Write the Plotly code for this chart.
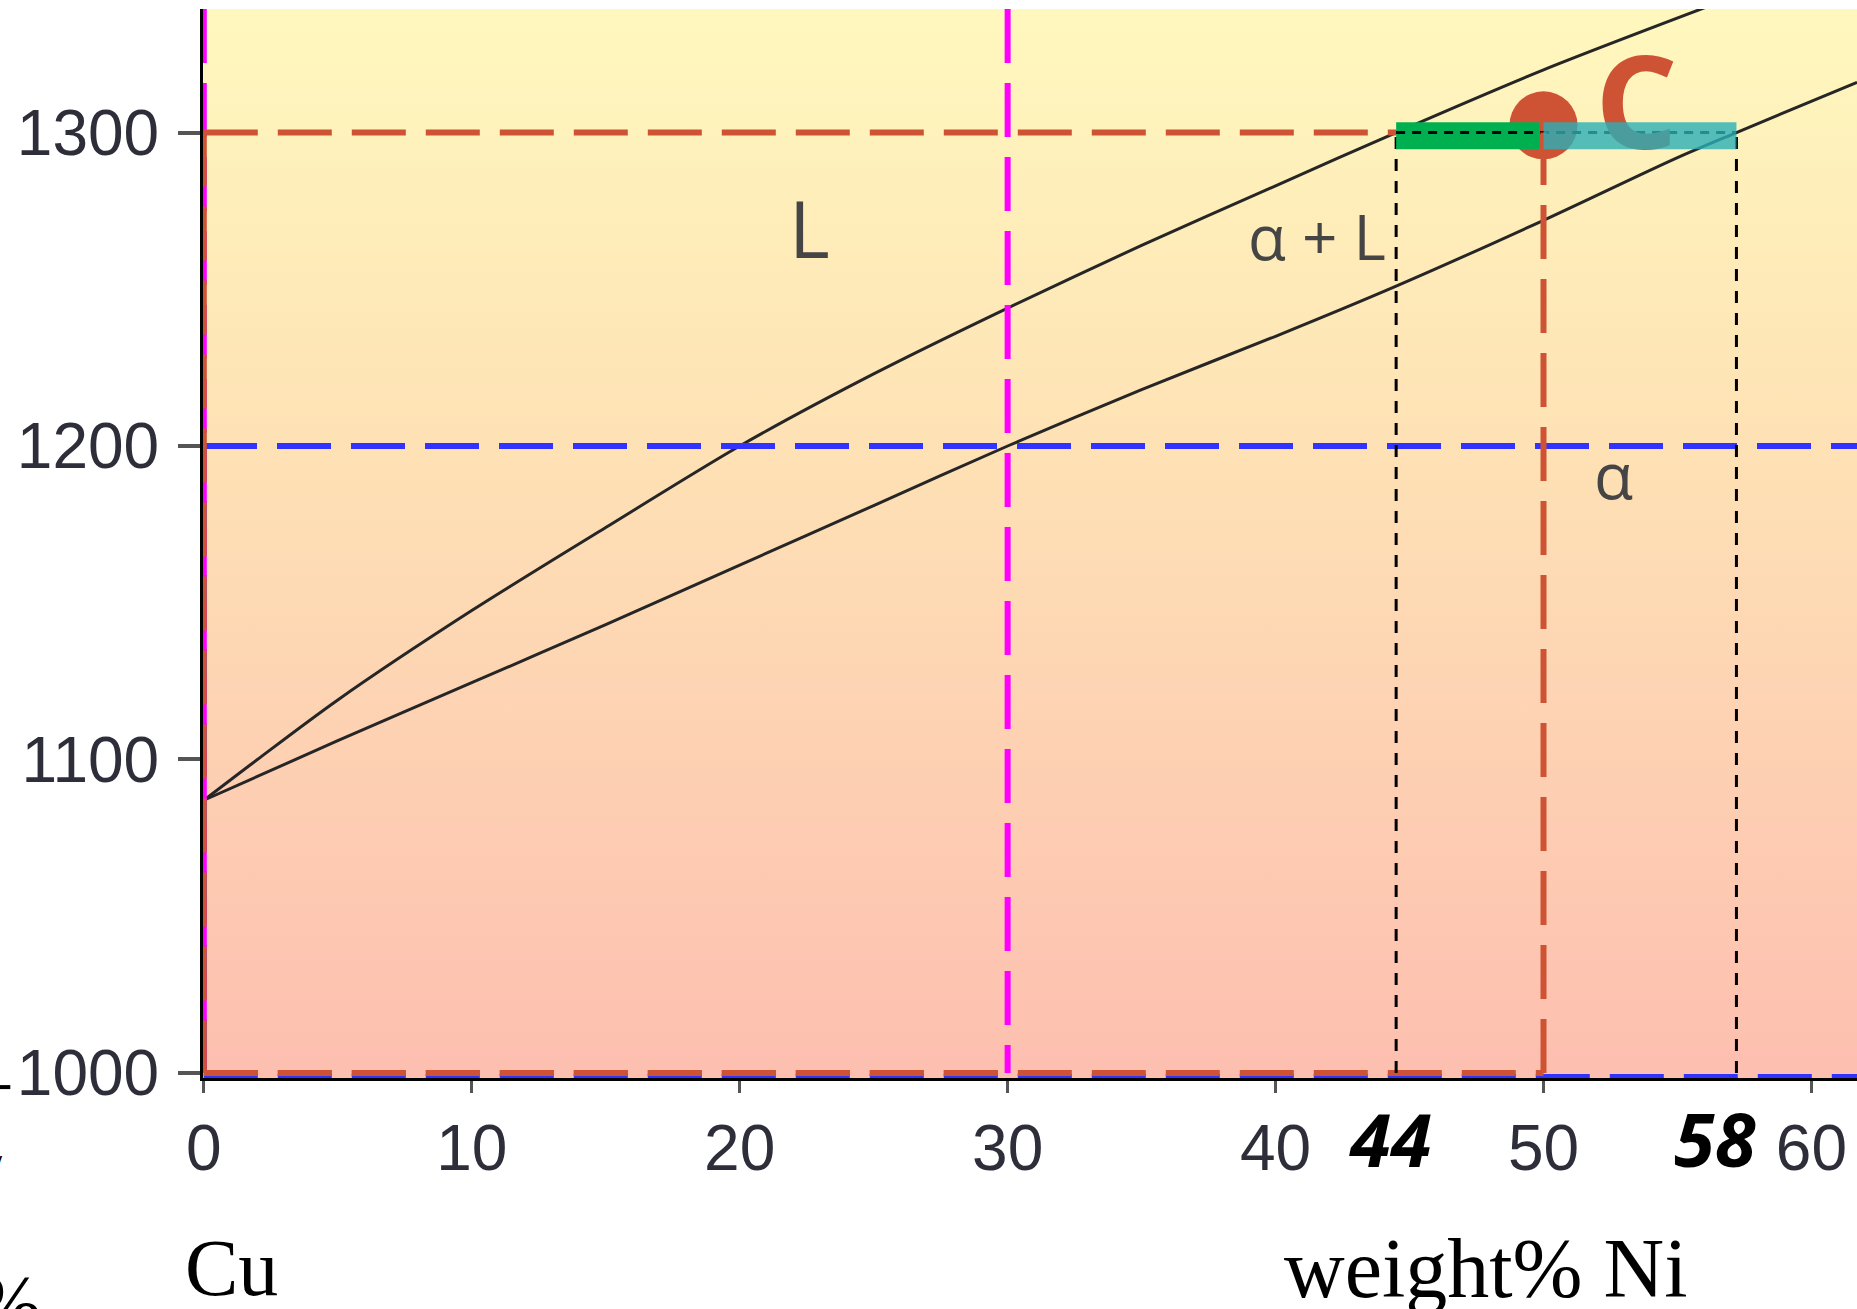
import plotly.graph_objects as go

# ---------------- data ----------------
liq_x = [0, 2, 5, 10, 15, 20, 25, 30, 35, 40, 44.5, 50, 57]
liq_T = [1087, 1100, 1119, 1147.5, 1174, 1200, 1223, 1244, 1264, 1283, 1300, 1320, 1343]

sol_x = [0, 5, 10, 15, 20, 25, 30, 35, 40, 44.5, 50, 55, 57.2, 61.7]
sol_T = [1087, 1106, 1124.5, 1143, 1162, 1181, 1200, 1218, 1235, 1251, 1272, 1292, 1300, 1316]

T_guides = [1300, 1200]          # orange, blue horizontal guides
C_guides = [30, 50]              # magenta, orange vertical guides
C0, T0 = 50, 1300                # alloy point C
tie_ends = [44.5, 57.2]          # tie-line ends as drawn
tie_labels = ["44", "58"]

x_ticks = [0, 10, 20, 30, 40, 50, 60]
y_ticks = [1000, 1100, 1200, 1300]
T_min = 1000

phase_labels = ["L", "α + L", "α"]
phase_pos = [(22.6, 1269.6), (41.55, 1267), (52.6, 1191)]

# ---------------- layout constants ----------------
XR = [-0.03, 61.7]
YR = [998.4, 1339.4]
ORANGE = "#CD5334"
BLUE = "#3333FF"
MAGENTA = "#FF00FF"
DASH = "54px,20px"
BOTTOM_OFFSET = 1.3   # visual offset of the blue bottom guide (axis units)

fig = go.Figure()

# gradient background
fig.add_trace(go.Scatter(
    x=[XR[0], XR[1], XR[1], XR[0], XR[0]],
    y=[YR[0], YR[0], YR[1], YR[1], YR[0]],
    mode="none", fill="toself",
    fillgradient=dict(type="vertical", colorscale=[[0, "#FDBFB0"], [0.6, "#FEE2B5"], [1, "#FFF8BE"]]),
    hoverinfo="skip", showlegend=False))

# phase boundary curves
for xs, ts in [(liq_x, liq_T), (sol_x, sol_T)]:
    fig.add_trace(go.Scatter(x=xs, y=ts, mode="lines",
                             line=dict(color="#262626", width=3, shape="spline", smoothing=0.8),
                             hoverinfo="skip", showlegend=False))

def seg(x, y, color, width, dash):
    fig.add_trace(go.Scatter(x=x, y=y, mode="lines",
                             line=dict(color=color, width=width, dash=dash),
                             hoverinfo="skip", showlegend=False))

# blue guides (T = 1200)
seg([XR[0], XR[1]], [T_guides[1], T_guides[1]], BLUE, 6, DASH)
seg([0, 0], [T_min, T_guides[1]], BLUE, 6, DASH)
seg([0, XR[1]], [T_min - BOTTOM_OFFSET, T_min - BOTTOM_OFFSET], BLUE, 6, DASH)

# magenta guides (C = 30)
seg([C_guides[0], C_guides[0]], [YR[1], T_min], MAGENTA, 6, DASH)
seg([0, 0], [YR[1], T_min], MAGENTA, 6, DASH)
seg([0, C_guides[0]], [T_min, T_min], MAGENTA, 6, DASH)

# orange guides (T = 1300 up to liquidus)
seg([0, tie_ends[0]], [T_guides[0], T_guides[0]], ORANGE, 6, DASH)
seg([0, 0], [T_guides[0], T_min], ORANGE, 6, DASH)
seg([0, C0], [T_min, T_min], ORANGE, 6, DASH)

# black dotted verticals at tie-line ends
for xe in tie_ends:
    seg([xe, xe], [T_min, T0], "black", 3, "12px,10px")

# alloy point dot
fig.add_trace(go.Scatter(x=[C0], y=[T0 + 2.3], mode="markers",
                         marker=dict(color=ORANGE, size=68, line=dict(width=0)),
                         hoverinfo="skip", showlegend=False))

# green part of tie line
fig.add_trace(go.Scatter(x=[tie_ends[0], C0 - 0.15], y=[T0 - 1, T0 - 1], mode="lines",
                         line=dict(color="#00B050", width=27),
                         hoverinfo="skip", showlegend=False))

# black dashed tie line
seg([tie_ends[0], tie_ends[1]], [T0, T0], "black", 3, "9px,7px")

# orange vertical at C0
seg([C0, C0], [T_min, T0], ORANGE, 6, DASH)

# "C" letter
fig.add_trace(go.Scatter(x=[53.47], y=[1305.2], mode="text", text=["C"],
                         textfont=dict(family="Open Sans", size=130, color=ORANGE, weight="bold"),
                         hoverinfo="skip", showlegend=False))

# teal part of tie line
fig.add_trace(go.Scatter(x=[C0, tie_ends[1]], y=[T0 - 1, T0 - 1], mode="lines",
                         line=dict(color="rgba(43,175,184,0.8)", width=27),
                         hoverinfo="skip", showlegend=False))

annotations = []
# phase labels
sizes = [78, 62, 64]
for lab, (px, py), s in zip(phase_labels, phase_pos, sizes):
    annotations.append(dict(x=px, y=py, xref="x", yref="y", text=lab, showarrow=False,
                            font=dict(family="Open Sans", size=s, color="#454545")))

# tie-line composition labels
for lab, xv in zip(tie_labels, [44.3, 56.4]):
    annotations.append(dict(x=xv, y=-0.057, xref="x", yref="paper", text=lab, showarrow=False,
                            yanchor="middle",
                            font=dict(family="Open Sans", size=74, color="black",
                                      weight="bold", style="italic")))

# axis captions
annotations.append(dict(x=1.02, y=-0.178, xref="x", yref="paper", text="Cu", showarrow=False,
                        yanchor="middle", font=dict(family="Liberation Serif", size=80, color="black")))
annotations.append(dict(x=47.86, y=-0.178, xref="x", yref="paper", text="weight% Ni", showarrow=False,
                        yanchor="middle", font=dict(family="Liberation Serif", size=84, color="black")))

# cropped fragments at the far left
annotations.append(dict(x=-0.096, y=-0.168, xref="paper", yref="paper", text="0%", showarrow=False,
                        xanchor="right", yanchor="top",
                        font=dict(family="Liberation Serif", size=80, color="black")))
annotations.append(dict(x=-0.1195, y=-0.085, xref="paper", yref="paper", text="/", showarrow=False,
                        xanchor="right", yanchor="middle",
                        font=dict(family="Liberation Serif", size=40, color="black")))

shapes = [dict(type="line", xref="paper", yref="paper", x0=-0.1235, x1=-0.1165,
               y0=-0.0085, y1=-0.0085, line=dict(color="black", width=4))]

fig.update_layout(
    width=1857, height=1309,
    margin=dict(l=203, r=0, t=9, b=231),
    paper_bgcolor="white", plot_bgcolor="white",
    showlegend=False,
    annotations=annotations, shapes=shapes,
    xaxis=dict(range=XR, tickvals=x_ticks, ticktext=[str(v) for v in x_ticks],
               showgrid=False, zeroline=False, showline=True, linecolor="black", linewidth=3,
               ticks="outside", ticklen=12, tickwidth=3, tickcolor="#555",
               ticklabelstandoff=0,
               tickfont=dict(family="Liberation Sans", size=64, color="#2e2e3a")),
    yaxis=dict(range=YR, tickvals=y_ticks, ticktext=[str(v) for v in y_ticks],
               showgrid=False, zeroline=False, showline=True, linecolor="black", linewidth=3,
               ticks="outside", ticklen=22, tickwidth=4, tickcolor="#555",
               ticklabelstandoff=6,
               tickfont=dict(family="Liberation Sans", size=64, color="#2e2e3a")),
)

fig.write_html("out.html")
